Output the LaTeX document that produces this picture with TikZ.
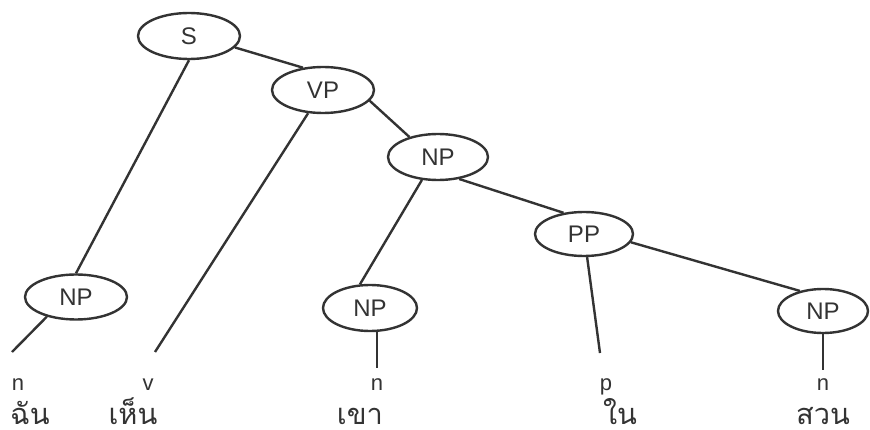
\documentclass[tikz,border=0pt]{standalone}
\usepackage{fontspec}
\setmainfont{Liberation Sans}
\newfontfamily\thaifont[Script=Thai]{Loma}
\usetikzlibrary{shapes.geometric}
\definecolor{ink}{HTML}{333333}
\begin{document}
\begin{tikzpicture}[x=1pt,y=-1pt,
  cat/.style={ellipse, draw=ink, line width=2.4pt, inner sep=0pt, text=ink,
              font=\fontsize{24}{24}\selectfont},
  postag/.style={text=ink, font=\fontsize{22}{22}\selectfont, inner sep=0pt, anchor=base},
  word/.style={text=ink, font=\thaifont\fontsize{29}{29}\selectfont, inner sep=0pt,
               text depth=0pt, anchor=base},
  edge/.style={draw=ink, line width=2.4pt}]
\useasboundingbox[fill=white] (0,0) rectangle (870,430);
% category nodes
\node[cat, minimum width=102pt, minimum height=46pt] (s)   at (189,36)  {S};
\node[cat, minimum width=102pt, minimum height=46pt] (vp)  at (323,90)  {VP};
\node[cat, minimum width=100pt, minimum height=46pt] (np1) at (438,157) {NP};
\node[cat, minimum width=98pt,  minimum height=44pt] (pp)  at (584,234) {PP};
\node[cat, minimum width=94pt,  minimum height=46pt] (np2) at (370,308) {NP};
\node[cat, minimum width=90pt,  minimum height=44pt] (np3) at (823,311) {NP};
\node[cat, minimum width=102pt, minimum height=45pt] (np0) at (76,297)  {NP};
% part-of-speech tags
\node[postag] (t1) at (18,390)  {n};
\node[postag] (t2) at (148,390) {v};
\node[postag] (t3) at (377,390) {n};
\node[postag] (t4) at (606,390) {p};
\node[postag] (t5) at (823,390) {n};
% words
\node[word] (w1) at (30,424)  {ฉัน};
\node[word] (w2) at (133,424) {เห็น};
\node[word] (w3) at (360,424) {เขา};
\node[word] (w4) at (620,424) {ใน};
\node[word] (w5) at (823,424) {สวน};
% free ends of the leaf lines
\coordinate (e1) at (12,352);
\coordinate (e2) at (155,352);
\coordinate (e3) at (377,368);
\coordinate (e4) at (600,353);
\coordinate (e5) at (823,370);
% connectors
\draw[edge] (s.-14) -- (vp.132);
\draw[edge] (s.south) -- (np0.north);
\draw[edge] (vp) -- (e2);
\draw[edge] (vp.-13) -- (np1.145);
\draw[edge] (np1.235) -- (np2.113);
\draw[edge] (np1.-46) -- (pp.134);
\draw[edge] (pp) -- (e4);
\draw[edge] (pp.-10) -- (np3.139);
\draw[edge] (np0.214) -- (e1);
\draw[edge] (e3 |- np2.south) -- (e3);
\draw[edge] (e5 |- np3.south) -- (e5);
\end{tikzpicture}
\end{document}
